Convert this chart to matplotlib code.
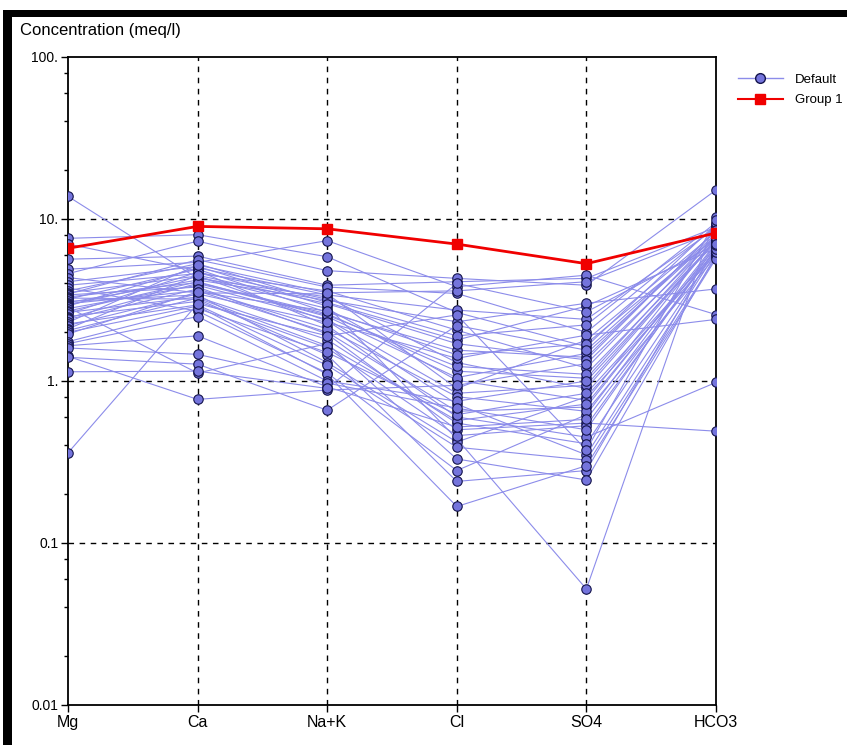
import matplotlib
matplotlib.use("Agg")
import matplotlib.pyplot as plt
from matplotlib.lines import Line2D
from matplotlib.ticker import FixedLocator, NullFormatter
import numpy as np

plt.rcParams['font.family'] = ['Liberation Sans Narrow', 'Liberation Sans', 'DejaVu Sans']

ions = ["Mg", "Ca", "Na+K", "Cl", "SO4", "HCO3"]

# samples of the "Default" group, one entry per sample in each list (meq/l)
mg = [13.8, 7.6, 7.0, 5.65, 4.9, 4.6, 4.35, 4.1, 3.9, 3.75, 3.6, 3.5, 3.45, 3.4, 3.3,
      3.25, 3.2, 3.1, 3.05, 3.0, 2.95, 2.9, 2.85, 2.8, 2.7, 2.65, 2.6, 2.5, 2.45, 2.4,
      2.3, 2.25, 2.2, 2.1, 2.05, 2.0, 1.95, 1.75, 1.7, 1.65, 1.6, 1.42, 1.4, 1.14, 0.36]
ca = [4.3, 8.0, 4.8, 5.9, 5.4, 7.3, 3.5, 5.1, 4.6, 2.7, 5.3, 4.45, 5.6, 3.8, 4.05,
      3.2, 4.9, 3.4, 4.2, 3.6, 4.4, 5.0, 1.12, 3.9, 4.1, 3.3, 4.7, 3.1, 4.0, 3.7,
      5.2, 2.95, 3.45, 4.5, 3.25, 2.9, 3.55, 2.8, 2.5, 1.9, 1.46, 0.77, 1.27, 1.15, 3.0]
nak = [3.3, 5.85, 2.2, 3.9, 7.35, 4.8, 3.45, 2.9, 3.6, 1.12, 3.05, 2.35, 3.8, 1.95, 2.6,
       1.45, 2.65, 1.3, 3.15, 2.0, 2.8, 3.4, 1.7, 2.4, 2.5, 1.8, 3.2, 1.6, 2.55, 2.1,
       3.5, 1.25, 2.3, 3.0, 1.65, 1.1, 2.7, 1.5, 1.0, 0.92, 0.97, 0.88, 0.66, 0.9, 1.9]
cl = [1.3, 2.65, 0.6, 4.1, 3.82, 4.3, 0.9, 0.44, 2.06, 0.28, 1.79, 0.72, 3.47, 0.5, 1.15,
      0.24, 1.55, 0.42, 2.32, 0.65, 1.01, 2.74, 0.33, 0.84, 1.05, 0.55, 1.9, 0.46, 1.23, 0.8,
      3.6, 0.39, 1.38, 1.7, 0.57, 0.168, 1.45, 0.62, 0.75, 0.52, 0.68, 0.94, 2.2, 4.0, 2.56]
so4 = [0.9, 1.63, 0.45, 4.3, 4.5, 3.9, 1.79, 0.052, 1.2, 0.62, 2.9, 0.35, 2.0, 0.55, 1.04,
       0.28, 1.4, 0.8, 3.02, 0.69, 0.76, 2.4, 0.245, 0.94, 1.48, 0.41, 2.22, 0.53, 1.1, 0.65,
       4.1, 0.325, 1.92, 1.35, 0.72, 0.3, 1.7, 0.84, 1.0, 0.58, 0.5, 1.28, 1.55, 2.67, 0.375]
hco3 = [7.4, 9.3, 0.98, 8.9, 2.57, 15.1, 8.3, 10.3, 8.0, 7.0, 6.6, 6.2, 9.0, 0.49, 7.8,
        6.8, 8.5, 6.1, 3.7, 7.1, 7.65, 8.8, 6.0, 7.5, 7.9, 6.4, 9.5, 6.6, 7.3, 5.9,
        8.4, 5.8, 2.4, 8.6, 6.7, 5.7, 7.7, 6.3, 7.2, 6.5, 6.9, 7.6, 8.1, 7.0, 9.8]

group1 = [6.6, 9.0, 8.7, 7.0, 5.3, 8.2]

line_blue = '#8C8CEA'
face_blue = '#7474DC'
edge_blue = '#14144C'
red = '#F00000'

fig = plt.figure(figsize=(8.47, 7.45), dpi=100)
ax = fig.add_axes([68/847, 1-705/745, 648/847, 648/745])

x = np.arange(len(ions))
table = np.array([mg, ca, nak, cl, so4, hco3])

for s in range(table.shape[1]):
    ax.plot(x, table[:, s], color=line_blue, lw=0.8, zorder=2)
for s in range(table.shape[1]):
    ax.plot(x, table[:, s], ls='none', marker='o', ms=6.8, mfc=face_blue,
            mec=edge_blue, mew=0.8, zorder=3)

ax.plot(x, group1, color=red, lw=2, marker='s', ms=7.5, mfc=red, mec=red, zorder=4)

ax.set_yscale('log')
ax.set_ylim(0.01, 100)
ax.set_xlim(0, len(ions)-1)
ax.set_xticks(x)
ax.set_xticklabels(ions, fontsize=11.5)
ax.set_yticks([0.01, 0.1, 1, 10, 100])
ax.set_yticklabels(["0.01", "0.1", "1.", "10.", "100."], fontsize=10)
minors = [m*10.0**k for k in range(-2, 2) for m in (2, 4, 6, 8)]
ax.yaxis.set_minor_locator(FixedLocator(minors))
ax.yaxis.set_minor_formatter(NullFormatter())
ax.tick_params(axis='both', which='major', direction='out', length=5, width=1, pad=2)
ax.tick_params(axis='y', which='minor', direction='out', length=3, width=1)

for v in x[1:-1]:
    ax.axvline(v, color='black', lw=1, ls=(0, (4, 4)), zorder=1)
for v in [0.1, 1, 10]:
    ax.axhline(v, color='black', lw=1, ls=(0, (4, 4)), zorder=1)
for sp in ax.spines.values():
    sp.set_linewidth(1.3)

fig.text(20/847, 1-31/745, "Concentration (meq/l)", fontsize=12, va='center', ha='left')

handles = [Line2D([], [], color=line_blue, lw=1, marker='o', ms=7, mfc=face_blue, mec=edge_blue),
           Line2D([], [], color=red, lw=1.5, marker='s', ms=7, mfc=red, mec=red)]
fig.legend(handles, ["Default", "Group 1"], loc='upper left',
           bbox_to_anchor=(726/847, 1-62/745), frameon=False, fontsize=9.5,
           handlelength=3.4, handletextpad=0.9, labelspacing=0.6)

# thick black frame at top and left
fig.add_artist(plt.Rectangle((7/847, 1-17/745), 840/847, 7/745, transform=fig.transFigure,
                             color='black', lw=0))
fig.add_artist(plt.Rectangle((3/847, 0), 9/847, 1-10/745, transform=fig.transFigure,
                             color='black', lw=0))

fig.savefig("out.png", dpi=100)
